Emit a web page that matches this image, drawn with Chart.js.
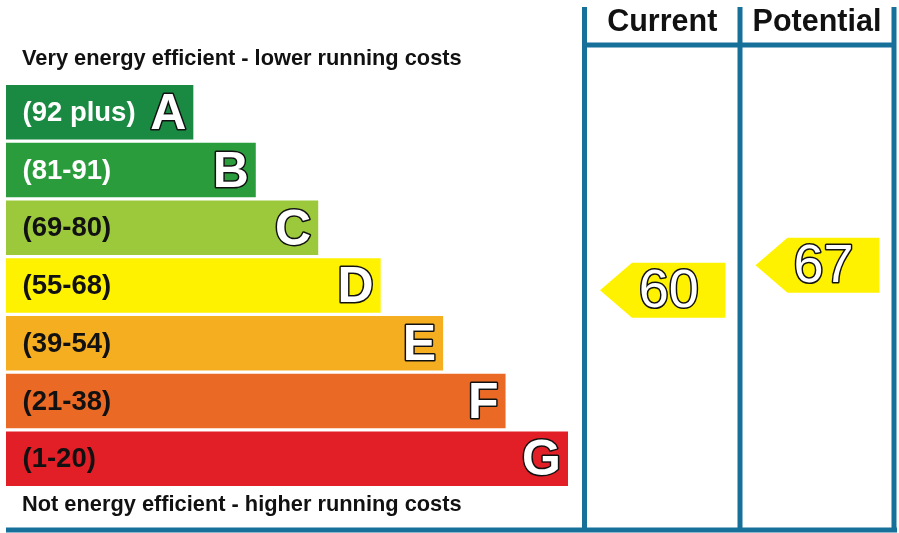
<!DOCTYPE html>
<html>
<head>
<meta charset="utf-8">
<script src="https://cdn.jsdelivr.net/npm/chart.js@4/dist/chart.umd.min.js"></script>
<style>
html,body{margin:0;padding:0;background:#fff;}
#wrap{width:899px;height:533px;position:relative;}
</style>
</head>
<body>
<div id="wrap"><canvas id="c"></canvas></div>
<script>
// ---- data ----
const bands = ['A','B','C','D','E','F','G'];
const bandRanges = ['(92 plus)','(81-91)','(69-80)','(55-68)','(39-54)','(21-38)','(1-20)'];
const barLengths = [3,4,5,6,7,8,9];
const bandColors = ['#1a8a43','#2a9c3c','#9cc93c','#fff200','#f5ae20','#ea6a25','#e21e26'];
const rangeTextColors = ['#ffffff','#ffffff','#111111','#111111','#111111','#111111','#111111'];
const columnTitles = ['Current','Potential'];
const ratingValues = [60, 67];
const ratingColors = ['#fff200','#fff200'];
const topText = 'Very energy efficient - lower running costs';
const bottomText = 'Not energy efficient - higher running costs';

const FONT = '"Liberation Sans", Arial, Helvetica, sans-serif';
const LINE = '#16709a';

const epcPlugin = {
  id: 'epc',
  afterDatasetsDraw(chart) {
    const ctx = chart.ctx;
    const meta = chart.getDatasetMeta(0);
    const ys = chart.scales.rv;
    ctx.save();
    // band labels and letters
    meta.data.forEach((bar, i) => {
      const p = bar.getProps(['x','y','base','height'], true);
      ctx.textBaseline = 'middle';
      ctx.font = 'bold 27.5px ' + FONT;
      ctx.fillStyle = rangeTextColors[i];
      ctx.textAlign = 'left';
      ctx.fillText(bandRanges[i], p.base + 16.5, p.y + 1);
      ctx.font = 'bold 50px ' + FONT;
      ctx.textAlign = 'right';
      ctx.lineJoin = 'round';
      ctx.lineWidth = 3;
      ctx.strokeStyle = '#111';
      ctx.strokeText(bands[i], p.x - 7, p.y + 3);
      ctx.fillStyle = '#fff';
      ctx.fillText(bands[i], p.x - 7, p.y + 3);
    });
    // top / bottom captions
    ctx.fillStyle = '#111';
    ctx.textAlign = 'left';
    ctx.textBaseline = 'middle';
    ctx.font = 'bold 21.8px ' + FONT;
    ctx.fillText(topText, 22, 59);
    ctx.fillText(bottomText, 22, 505);
    // grid lines
    const cols = [584.5, 740, 894];
    ctx.strokeStyle = LINE;
    ctx.lineWidth = 5;
    ctx.lineCap = 'butt';
    ctx.beginPath();
    cols.forEach(x => { ctx.moveTo(x, 7); ctx.lineTo(x, 530); });
    ctx.moveTo(cols[0] - 2.5, 45); ctx.lineTo(cols[2] + 2.5, 45);
    ctx.moveTo(6, 530); ctx.lineTo(897, 530);
    ctx.stroke();
    // headers
    ctx.fillStyle = '#111';
    ctx.textAlign = 'center';
    ctx.font = 'bold 30.5px ' + FONT;
    for (let k = 0; k < 2; k++) {
      ctx.fillText(columnTitles[k], (cols[k] + cols[k+1]) / 2, 22.5);
    }
    // arrows
    for (let k = 0; k < 2; k++) {
      const left = cols[k] + 2.5 + 13;
      const right = cols[k+1] - 2.5 - 12;
      const cy = ys.getPixelForValue(ratingValues[k]);
      const h = 27.5, tip = 32;
      ctx.fillStyle = ratingColors[k];
      ctx.beginPath();
      ctx.moveTo(left, cy);
      ctx.lineTo(left + tip, cy - h);
      ctx.lineTo(right, cy - h);
      ctx.lineTo(right, cy + h);
      ctx.lineTo(left + tip, cy + h);
      ctx.closePath();
      ctx.fill();
      ctx.font = '54px ' + FONT;
      ctx.textAlign = 'center';
      ctx.textBaseline = 'middle';
      ctx.lineWidth = 3;
      ctx.strokeStyle = '#111';
      const tx = (left + right) / 2 + 6;
      ctx.strokeText(String(ratingValues[k]), tx, cy + 2);
      ctx.fillStyle = '#fff';
      ctx.fillText(String(ratingValues[k]), tx, cy + 2);
    }
    ctx.restore();
  }
};

new Chart(document.getElementById('c'), {
  type: 'bar',
  data: {
    labels: bands,
    datasets: [{
      data: barLengths,
      backgroundColor: bandColors,
      borderWidth: 0,
      barPercentage: 0.944,
      categoryPercentage: 1
    }]
  },
  options: {
    indexAxis: 'y',
    responsive: true,
    maintainAspectRatio: false,
    animation: false,
    layout: { padding: { left: 6, right: 331, top: 83.5, bottom: 45.5 } },
    plugins: { legend: { display: false }, tooltip: { enabled: false } },
    scales: {
      x: { display: false, min: 0, max: 9 },
      y: { display: false },
      rv: { type: 'linear', axis: 'y', display: false, min: 12.57, max: 110.09 }
    }
  },
  plugins: [epcPlugin]
});
</script>
</body>
</html>
